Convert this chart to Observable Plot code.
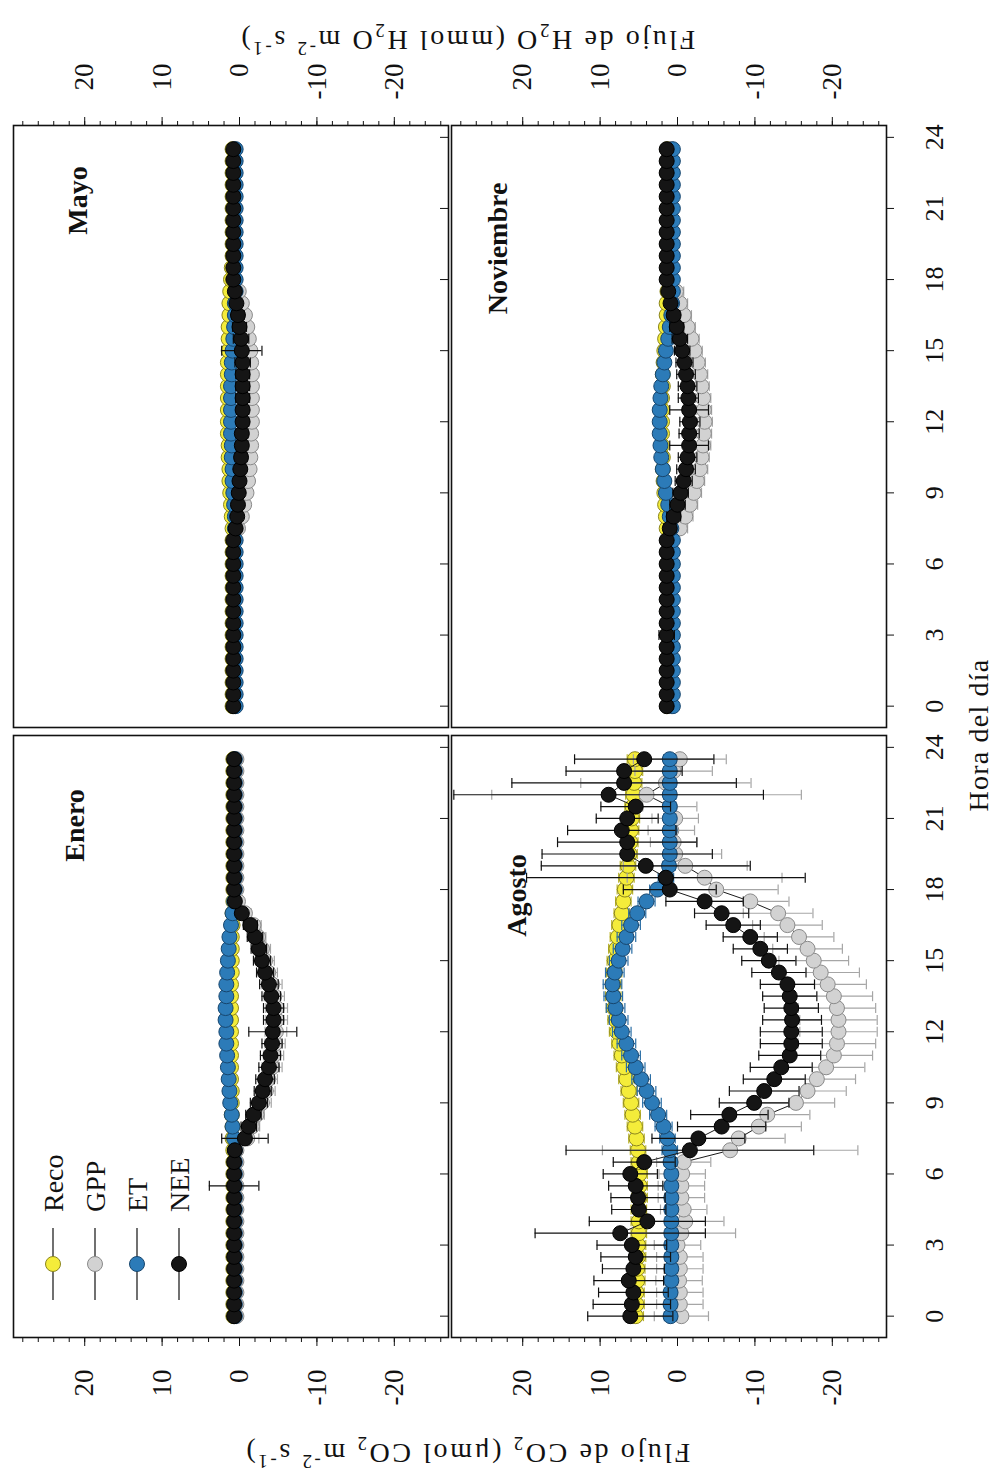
<!DOCTYPE html>
<html><head><meta charset="utf-8">
<script src="https://cdn.jsdelivr.net/npm/d3@7"></script>
<script src="https://cdn.jsdelivr.net/npm/@observablehq/plot@0.6"></script>
<style>
html,body{margin:0;padding:0;background:#fff;overflow:hidden;width:1007px;height:1480px;}
#fig{position:absolute;left:0;top:0;width:1480px;height:1007px;transform-origin:0 0;transform:translate(0px,1480px) rotate(-90deg);}
</style></head><body><div id="fig"></div>
<script>
// ---------- data ----------
const hours = [0,0.5,1,1.5,2,2.5,3,3.5,4,4.5,5,5.5,6,6.5,7,7.5,8,8.5,9,9.5,10,10.5,11,11.5,12,12.5,13,13.5,14,14.5,15,15.5,16,16.5,17,17.5,18,18.5,19,19.5,20,20.5,21,21.5,22,22.5,23,23.5];
const months = ["Enero","Mayo","Agosto","Noviembre"];
const panelCol = [0,1,0,1];
const panelRow = [0,0,1,1];
const series = ["Reco","GPP","ET","NEE"];
const hourTicks = [0,3,6,9,12,15,18,21,24];
const fluxTicks = [-20,-10,0,10,20];
const fluxMinorTicks = [-26,-24,-22,-20,-18,-16,-14,-12,-10,-8,-6,-4,-2,0,2,4,6,8,10,12,14,16,18,20,22,24,26,28];

// Enero
const recoEnero = [0.8,0.8,0.8,0.8,0.8,0.8,0.8,0.8,0.8,0.8,0.8,0.8,0.8,0.8,0.8,0.9,0.9,1.0,1.0,1.0,1.1,1.1,1.1,1.1,1.1,1.1,1.1,1.1,1.1,1.0,1.0,1.0,1.0,0.9,0.9,0.8,0.8,0.8,0.8,0.8,0.8,0.8,0.8,0.8,0.8,0.8,0.8,0.8];
const gppEnero = [0.4,0.4,0.4,0.4,0.4,0.4,0.4,0.4,0.4,0.4,0.4,0.4,0.4,0.4,0.4,-1.0,-1.6,-2.2,-2.9,-3.4,-3.7,-4.2,-4.4,-4.6,-4.7,-4.8,-4.8,-4.5,-4.2,-3.7,-3.3,-2.9,-2.4,-1.8,-0.7,0.2,0.4,0.4,0.4,0.4,0.4,0.4,0.4,0.4,0.4,0.4,0.4,0.4];
const etEnero = [0.6,0.6,0.6,0.6,0.6,0.6,0.6,0.6,0.6,0.6,0.6,0.6,0.6,0.6,0.6,0.7,0.9,1.0,1.2,1.3,1.4,1.5,1.6,1.7,1.7,1.8,1.8,1.7,1.7,1.6,1.5,1.4,1.3,1.1,0.9,0.7,0.6,0.6,0.6,0.6,0.6,0.6,0.6,0.6,0.6,0.6,0.6,0.6];
const neeEnero = [0.7,0.7,0.7,0.7,0.7,0.7,0.7,0.7,0.7,0.7,0.7,0.7,0.7,0.7,0.6,-0.7,-1.2,-1.8,-2.5,-3.0,-3.3,-3.8,-4.0,-4.2,-4.3,-4.4,-4.4,-4.1,-3.8,-3.3,-2.9,-2.5,-2.0,-1.4,-0.3,0.6,0.7,0.7,0.7,0.7,0.7,0.7,0.7,0.7,0.7,0.7,0.7,0.7];
const recoEneroSD = [0.3,0.3,0.3,0.3,0.3,0.3,0.3,0.3,0.3,0.3,0.3,0.3,0.3,0.3,0.3,0.3,0.3,0.3,0.3,0.3,0.3,0.3,0.3,0.3,0.3,0.3,0.3,0.3,0.3,0.3,0.3,0.3,0.3,0.3,0.3,0.3,0.3,0.3,0.3,0.3,0.3,0.3,0.3,0.3,0.3,0.3,0.3,0.3];
const gppEneroSD = [0.3,0.3,0.3,0.3,0.3,0.3,0.3,0.3,0.3,0.3,0.3,0.3,0.3,0.3,0.3,1.5,1.0,1.0,1.2,1.2,1.2,1.3,1.3,1.3,1.4,1.4,1.4,1.3,1.3,1.2,1.2,1.1,1.0,1.0,0.8,0.5,0.3,0.3,0.3,0.3,0.3,0.3,0.3,0.3,0.3,0.3,0.3,0.3];
const etEneroSD = [0.3,0.3,0.3,0.3,0.3,0.3,0.3,0.3,0.3,0.3,0.3,0.3,0.3,0.3,0.3,0.3,0.3,0.3,0.3,0.3,0.3,0.3,0.3,0.3,0.3,0.3,0.3,0.3,0.3,0.3,0.3,0.3,0.3,0.3,0.3,0.3,0.3,0.3,0.3,0.3,0.3,0.3,0.3,0.3,0.3,0.3,0.3,0.3];
const neeEneroSD = [0.4,0.4,0.4,0.4,0.5,0.5,0.6,0.5,0.6,0.8,0.5,3.2,0.5,0.5,0.6,3.0,1.0,1.0,1.1,1.1,1.2,1.3,1.3,1.3,3.1,1.3,1.3,1.2,1.2,1.1,1.1,1.0,1.0,0.9,0.7,0.5,0.4,0.4,0.4,0.4,0.4,0.4,0.4,0.4,0.4,0.4,0.4,0.4];

// Mayo
const recoMayo = [0.9,0.9,0.9,0.9,0.9,0.9,0.9,0.9,0.9,0.9,0.9,0.9,0.9,0.9,0.9,0.9,1.0,1.1,1.2,1.3,1.3,1.4,1.4,1.5,1.5,1.5,1.5,1.5,1.5,1.5,1.4,1.4,1.4,1.3,1.3,1.2,1.1,1.0,0.9,0.9,0.9,0.9,0.9,0.9,0.9,0.9,0.9,0.9];
const gppMayo = [0.6,0.6,0.6,0.6,0.6,0.6,0.6,0.6,0.6,0.6,0.6,0.6,0.6,0.6,0.6,0.2,-0.3,-0.6,-0.9,-1.1,-1.3,-1.4,-1.5,-1.5,-1.6,-1.6,-1.6,-1.6,-1.6,-1.5,-1.4,-1.2,-1.0,-0.7,-0.3,0.1,0.6,0.6,0.6,0.6,0.6,0.6,0.6,0.6,0.6,0.6,0.6,0.6];
const etMayo = [0.5,0.5,0.5,0.5,0.5,0.5,0.5,0.5,0.5,0.5,0.5,0.5,0.5,0.5,0.5,0.6,0.6,0.7,0.8,0.9,0.9,1.0,1.0,1.1,1.1,1.1,1.1,1.1,1.0,1.0,0.9,0.8,0.7,0.6,0.6,0.5,0.5,0.5,0.5,0.5,0.5,0.5,0.5,0.5,0.5,0.5,0.5,0.5];
const neeMayo = [0.8,0.8,0.8,0.8,0.8,0.8,0.8,0.8,0.8,0.8,0.8,0.8,0.8,0.8,0.8,0.5,0.3,0.2,0.1,0.0,-0.1,-0.2,-0.3,-0.3,-0.4,-0.4,-0.4,-0.4,-0.4,-0.4,-0.3,-0.2,0.0,0.2,0.4,0.6,0.8,0.8,0.8,0.8,0.8,0.8,0.8,0.8,0.8,0.8,0.8,0.8];
const recoMayoSD = [0.2,0.2,0.2,0.2,0.2,0.2,0.2,0.2,0.2,0.2,0.2,0.2,0.2,0.2,0.2,0.2,0.2,0.2,0.2,0.2,0.2,0.2,0.2,0.2,0.2,0.2,0.2,0.2,0.2,0.2,0.2,0.2,0.2,0.2,0.2,0.2,0.2,0.2,0.2,0.2,0.2,0.2,0.2,0.2,0.2,0.2,0.2,0.2];
const gppMayoSD = [0.2,0.2,0.2,0.2,0.2,0.2,0.2,0.2,0.2,0.2,0.2,0.2,0.2,0.2,0.2,0.7,0.7,0.7,0.7,0.7,0.7,0.7,0.7,0.7,0.7,0.7,0.7,0.7,0.7,0.7,0.7,0.7,0.7,0.7,0.7,0.7,0.2,0.2,0.2,0.2,0.2,0.2,0.2,0.2,0.2,0.2,0.2,0.2];
const etMayoSD = [0.2,0.2,0.2,0.2,0.2,0.2,0.2,0.2,0.2,0.2,0.2,0.2,0.2,0.2,0.2,0.2,0.2,0.2,0.2,0.2,0.2,0.2,0.2,0.2,0.2,0.2,0.2,0.2,0.2,0.2,0.2,0.2,0.2,0.2,0.2,0.2,0.2,0.2,0.2,0.2,0.2,0.2,0.2,0.2,0.2,0.2,0.2,0.2];
const neeMayoSD = [0.3,0.3,0.3,0.3,0.3,0.3,0.3,0.3,0.3,0.3,0.3,0.3,0.3,0.3,0.3,0.5,0.6,0.6,0.7,0.7,0.7,0.8,0.8,0.8,0.8,0.8,0.9,0.9,0.9,1.0,2.6,1.0,0.9,0.8,0.6,0.5,0.3,0.3,0.3,0.3,0.3,0.3,0.3,0.3,0.3,0.3,0.3,0.3];

// Agosto
const recoAgosto = [5.4,5.3,5.3,5.2,5.2,5.1,5.1,5.0,5.0,5.0,4.9,4.9,4.9,5.0,5.1,5.3,5.5,5.8,6.0,6.3,6.6,6.9,7.2,7.5,7.8,8.0,8.2,8.3,8.3,8.2,8.1,7.9,7.7,7.5,7.2,7.0,6.8,6.6,6.4,6.2,6.1,6.0,5.9,5.8,5.7,5.6,5.5,5.5];
const gppAgosto = [-0.5,-0.3,-0.3,-0.2,-0.3,-0.3,0.0,-0.5,-1.0,-0.8,-0.5,-0.5,-0.6,-0.8,-6.8,-7.9,-10.5,-11.6,-15.3,-16.8,-18.0,-19.2,-20.2,-20.6,-20.8,-20.8,-20.6,-20.2,-19.4,-18.5,-17.6,-16.8,-15.7,-14.2,-13.0,-9.4,-5.0,-3.5,-1.0,0.3,0.5,0.8,0.3,1.0,4.0,1.5,0.5,-0.3];
const etAgosto = [0.9,0.9,0.9,0.8,0.8,0.8,0.8,0.8,0.8,0.8,0.8,0.8,0.8,0.9,1.0,1.3,1.8,2.5,3.3,4.0,4.7,5.4,6.0,6.6,7.2,7.6,8.0,8.3,8.4,8.1,7.6,7.1,6.6,6.0,5.2,4.0,2.6,1.5,1.1,1.0,1.0,1.0,1.0,1.0,1.0,1.0,1.0,1.0];
const neeAgosto = [6.1,5.9,5.7,6.3,5.7,5.4,5.9,7.4,3.9,5.0,5.1,5.4,6.1,4.3,-1.6,-2.7,-5.7,-6.7,-9.9,-11.2,-12.5,-13.4,-14.5,-14.7,-14.7,-14.8,-14.7,-14.5,-14.2,-13.1,-11.8,-10.7,-9.4,-7.2,-5.7,-3.5,1.0,1.5,4.1,6.5,6.5,7.2,6.5,5.4,8.9,6.9,6.9,4.3];
const recoAgostoSD = [1.0,1.0,1.0,1.0,1.0,1.0,1.0,1.0,1.0,1.0,1.0,1.0,1.0,1.0,1.0,1.0,1.0,1.0,1.0,1.0,1.0,1.0,1.0,1.0,1.0,1.0,1.0,1.0,1.0,1.0,1.0,1.0,1.0,1.0,1.0,1.0,1.0,1.0,1.0,1.0,1.0,1.0,1.0,1.0,1.0,1.0,1.0,1.0];
const gppAgostoSD = [3.5,3.0,3.0,3.0,3.0,3.0,3.0,7.0,5.0,3.0,3.0,3.0,3.0,3.5,16.5,6.0,5.5,5.5,5.0,5.0,5.0,5.0,5.0,5.0,5.0,5.0,5.0,5.0,5.0,5.0,4.5,4.5,4.5,4.5,4.5,5.0,8.0,10.0,8.0,6.0,3.0,3.0,3.0,3.5,20.0,11.0,5.0,6.0];
const etAgostoSD = [0.8,0.8,0.8,0.8,0.8,0.8,0.8,0.8,0.8,0.8,0.8,0.8,0.8,0.8,1.0,1.0,1.1,1.1,1.2,1.2,1.2,1.2,1.2,1.2,1.2,1.2,1.2,1.2,1.2,1.2,1.2,1.2,1.2,1.2,1.1,1.1,1.0,1.0,0.8,0.8,0.8,0.8,0.8,0.8,0.8,0.8,0.8,0.8];
const neeAgostoSD = [5.5,5.0,4.5,4.5,4.0,4.5,4.5,11.0,7.5,3.5,3.5,3.5,3.5,4.0,16.0,6.0,5.7,5.0,4.5,4.5,4.0,4.0,4.0,4.0,4.0,3.8,3.5,3.5,3.5,3.5,3.5,3.5,3.5,3.5,3.5,5.0,6.0,18.0,13.5,11.0,9.0,7.0,4.0,4.5,20.0,14.5,7.5,9.0];

// Noviembre
const recoNoviembre = [1.3,1.3,1.3,1.3,1.3,1.3,1.3,1.3,1.3,1.3,1.3,1.3,1.3,1.3,1.3,1.4,1.5,1.6,1.7,1.8,1.9,1.9,2.0,2.0,2.0,2.0,2.0,1.9,1.9,1.8,1.7,1.6,1.5,1.4,1.4,1.3,1.3,1.3,1.3,1.3,1.3,1.3,1.3,1.3,1.3,1.3,1.3,1.3];
const gppNoviembre = [0.8,0.8,0.8,0.8,0.8,0.8,0.8,0.8,0.8,0.8,0.8,0.8,0.8,0.8,0.8,-0.3,-1.0,-1.6,-2.1,-2.5,-2.9,-3.1,-3.3,-3.4,-3.5,-3.4,-3.3,-3.1,-2.9,-2.6,-2.2,-1.8,-1.3,-0.8,-0.3,0.2,0.8,0.8,0.8,0.8,0.8,0.8,0.8,0.8,0.8,0.8,0.8,0.8];
const etNoviembre = [0.6,0.6,0.6,0.6,0.6,0.6,0.6,0.6,0.6,0.6,0.6,0.6,0.6,0.6,0.6,0.8,1.0,1.2,1.5,1.7,1.9,2.1,2.2,2.3,2.3,2.3,2.2,2.1,1.9,1.7,1.5,1.2,1.0,0.8,0.7,0.6,0.6,0.6,0.6,0.6,0.6,0.6,0.6,0.6,0.6,0.6,0.6,0.6];
const neeNoviembre = [1.4,1.4,1.4,1.4,1.4,1.4,1.4,1.4,1.4,1.4,1.4,1.4,1.4,1.4,1.4,1.0,0.5,0.0,-0.4,-0.8,-1.1,-1.3,-1.5,-1.5,-1.6,-1.5,-1.4,-1.3,-1.1,-0.9,-0.6,-0.3,0.1,0.5,0.9,1.2,1.4,1.4,1.4,1.4,1.4,1.4,1.4,1.4,1.4,1.4,1.4,1.4];
const recoNoviembreSD = [0.3,0.3,0.3,0.3,0.3,0.3,0.3,0.3,0.3,0.3,0.3,0.3,0.3,0.3,0.3,0.3,0.3,0.3,0.3,0.3,0.3,0.3,0.3,0.3,0.3,0.3,0.3,0.3,0.3,0.3,0.3,0.3,0.3,0.3,0.3,0.3,0.3,0.3,0.3,0.3,0.3,0.3,0.3,0.3,0.3,0.3,0.3,0.3];
const gppNoviembreSD = [0.3,0.3,0.3,0.3,0.3,0.3,0.3,0.3,0.3,0.3,0.3,0.3,0.3,0.3,0.3,1.0,1.0,1.0,1.0,1.0,1.0,1.0,1.0,1.0,1.0,1.0,1.0,1.0,1.0,1.0,1.0,1.0,1.0,1.0,1.0,1.0,0.3,0.3,0.3,0.3,0.3,0.3,0.3,0.3,0.3,0.3,0.3,0.3];
const etNoviembreSD = [0.3,0.3,0.3,0.3,0.3,0.3,0.3,0.3,0.3,0.3,0.3,0.3,0.3,0.3,0.3,0.3,0.3,0.3,0.3,0.3,0.3,0.3,0.3,0.3,0.3,0.3,0.3,0.3,0.3,0.3,0.3,0.3,0.3,0.3,0.3,0.3,0.3,0.3,0.3,0.3,0.3,0.3,0.3,0.3,0.3,0.3,0.3,0.3];
const neeNoviembreSD = [0.4,0.4,0.4,0.4,0.4,0.4,1.0,0.4,0.4,0.4,0.4,0.4,0.4,0.4,0.5,0.8,0.9,1.0,1.0,1.1,1.2,1.2,2.5,1.3,1.3,2.5,1.3,1.2,1.2,1.1,1.0,1.0,0.9,0.8,0.6,0.5,0.4,0.4,0.4,0.4,0.4,0.4,0.4,0.4,0.4,0.4,0.4,0.4];

const table = [
  ["Enero","Reco",recoEnero,recoEneroSD],["Enero","GPP",gppEnero,gppEneroSD],["Enero","ET",etEnero,etEneroSD],["Enero","NEE",neeEnero,neeEneroSD],
  ["Mayo","Reco",recoMayo,recoMayoSD],["Mayo","GPP",gppMayo,gppMayoSD],["Mayo","ET",etMayo,etMayoSD],["Mayo","NEE",neeMayo,neeMayoSD],
  ["Agosto","Reco",recoAgosto,recoAgostoSD],["Agosto","GPP",gppAgosto,gppAgostoSD],["Agosto","ET",etAgosto,etAgostoSD],["Agosto","NEE",neeAgosto,neeAgostoSD],
  ["Noviembre","Reco",recoNoviembre,recoNoviembreSD],["Noviembre","GPP",gppNoviembre,gppNoviembreSD],["Noviembre","ET",etNoviembre,etNoviembreSD],["Noviembre","NEE",neeNoviembre,neeNoviembreSD]
];
const rows = [];
for (const [month, s, vals, sds] of table) {
  const m = months.indexOf(month);
  vals.forEach((v, i) => rows.push({month, series: s, hour: hours[i], v, sd: sds[i], col: panelCol[m], row: panelRow[m]}));
}

// ---------- styling ----------
const FONT = "'Liberation Serif', 'Times New Roman', serif";
const sty = {
  Reco: {fill: "#f4ec3a", stroke: "#8c861c", bar: "#bdb62c"},
  GPP:  {fill: "#d2d2d2", stroke: "#8a8a8a", bar: "#a6a6a6"},
  ET:   {fill: "#2c7bb8", stroke: "#17466e", bar: "#2a6ea5"},
  NEE:  {fill: "#151515", stroke: "#000000", bar: "#111111"}
};
const capSymbol = {draw(context, size) { const w = Math.sqrt(size / Math.PI); context.moveTo(-w, 0); context.lineTo(w, 0); }};

const marks = [];
for (const s of series) {
  const d = rows.filter(r => r.series === s);
  const st = sty[s];
  marks.push(
    Plot.ruleX(d, {fx: "col", fy: "row", x: "hour", y1: r => r.v - r.sd, y2: r => r.v + r.sd, stroke: st.bar, strokeWidth: 1.2, clip: true}),
    Plot.dot(d, {fx: "col", fy: "row", x: "hour", y: r => r.v - r.sd, symbol: capSymbol, r: 5, fill: "none", stroke: st.bar, strokeWidth: 1.2, clip: true}),
    Plot.dot(d, {fx: "col", fy: "row", x: "hour", y: r => r.v + r.sd, symbol: capSymbol, r: 5, fill: "none", stroke: st.bar, strokeWidth: 1.2, clip: true}),
    Plot.line(d, {fx: "col", fy: "row", x: "hour", y: "v", z: "month", stroke: "#1a1a1a", strokeWidth: 1}),
    Plot.dot(d, {fx: "col", fy: "row", x: "hour", y: "v", r: 7.5, fill: st.fill, stroke: st.stroke, strokeWidth: 1})
  );
}

const titleOffsets = {Enero: [-90, 62], Mayo: [-75, 65], Agosto: [-160, 66], Noviembre: [-123, 47]};
months.forEach((name, m) => {
  marks.push(Plot.text([{name, col: panelCol[m], row: panelRow[m]}], {
    fx: "col", fy: "row", text: "name", frameAnchor: "top-right",
    dx: titleOffsets[name][0], dy: titleOffsets[name][1],
    textAnchor: "middle", lineAnchor: "middle", fontWeight: "bold", fontSize: 28, fill: "#111"
  }));
});

marks.push(
  Plot.frame({stroke: "#111", strokeWidth: 1.6}),
  Plot.axisY({anchor: "left", ticks: fluxMinorTicks, tickSize: 4, fill: "none", facetAnchor: "left", label: null, stroke: "#111"}),
  Plot.axisY({anchor: "left", ticks: fluxTicks, tickSize: 8, tickPadding: 24, tickFormat: d => String(d), facetAnchor: "left", label: null, stroke: "#111", fill: "#111", fontSize: 27}),
  Plot.axisY({anchor: "right", ticks: fluxMinorTicks, tickSize: 4, fill: "none", facetAnchor: "right", label: null, stroke: "#111"}),
  Plot.axisY({anchor: "right", ticks: fluxTicks, tickSize: 8, tickPadding: 54, textAnchor: "end", tickFormat: d => String(d), facetAnchor: "right", label: null, stroke: "#111", fill: "#111", fontSize: 27}),
  Plot.axisX({anchor: "bottom", ticks: hourTicks, tickSize: 8, tickPadding: 30, tickFormat: d => String(d), facetAnchor: "bottom", label: null, stroke: "#111", fill: "#111", fontSize: 26}),
  Plot.axisX({anchor: "bottom", ticks: hourTicks, tickSize: -8, fill: "none", facetAnchor: "top", label: null, stroke: "#111"})
);

const chart = Plot.plot({
  width: 1480, height: 1007,
  marginLeft: 142, marginRight: 125, marginTop: 13, marginBottom: 120,
  style: {fontFamily: FONT, fontSize: "27px", color: "#111", background: "#fff"},
  x: {domain: [-0.9, 24.5]},
  y: {domain: [-27, 29.2]},
  fx: {domain: [0, 1], paddingInner: 0.013, paddingOuter: 0, axis: null},
  fy: {domain: [0, 1], paddingInner: 0.006, paddingOuter: 0, axis: null},
  marks
});
document.getElementById("fig").appendChild(chart);

// ---------- legend (inside Enero panel) and axis titles ----------
const svg = d3.select(chart);
const lg = svg.append("g").attr("font-family", FONT).attr("font-size", 28).attr("fill", "#111").attr("text-anchor", "start");
series.forEach((name, i) => {
  const y = 53 + 42 * i;
  lg.append("line").attr("x1", 180).attr("x2", 252).attr("y1", y).attr("y2", y).attr("stroke", "#111").attr("stroke-width", 1.2);
  lg.append("circle").attr("cx", 216).attr("cy", y).attr("r", 7.5).attr("fill", sty[name].fill).attr("stroke", sty[name].stroke);
  lg.append("text").attr("x", 268).attr("y", y).attr("dy", "0.35em").attr("text-anchor", "start").text(name);
});

function richTitle(parts, tx, ty, rot, spacing) {
  const t = svg.append("text")
    .attr("transform", `translate(${tx},${ty}) rotate(${rot})`)
    .attr("text-anchor", "middle").attr("dy", "0.35em")
    .attr("font-family", FONT).attr("font-size", 28).attr("fill", "#111")
    .attr("letter-spacing", spacing);
  let shift = 0;
  parts.forEach(([txt, k]) => {
    const target = k === 1 ? 7 : k === -1 ? -11 : 0;
    const sp = t.append("tspan").attr("dy", target - shift).text(txt);
    if (k) sp.attr("font-size", 19);
    shift = target;
  });
}
richTitle([["Flujo de CO", 0], ["2", 1], [" (μmol CO", 0], ["2", 1], [" m", 0], ["-2", -1], [" s", 0], ["-1", -1], [")", 0]], 36, 467, -90, 2.6);
richTitle([["Flujo de H", 0], ["2", 1], ["O (mmol H", 0], ["2", 1], ["O m", 0], ["-2", -1], [" s", 0], ["-1", -1], [")", 0]], 1449, 467, -90, 2.6);
richTitle([["Hora del día", 0]], 745, 988, 0, 1.2);
</script></body></html>
